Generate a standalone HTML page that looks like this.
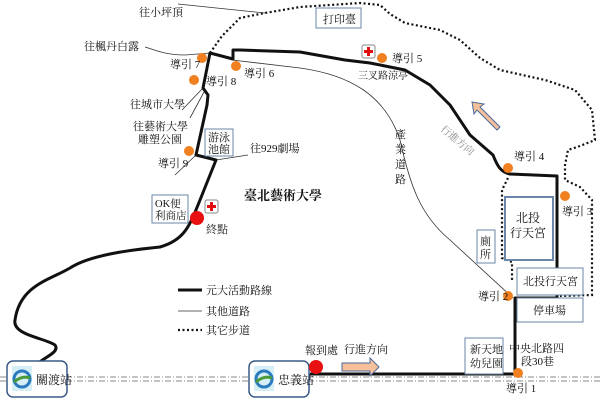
<!DOCTYPE html>
<html><head><meta charset="utf-8"><style>
html,body{margin:0;padding:0;background:#fff}
svg{display:block}
text{font-family:"Liberation Serif","Noto Serif CJK SC","Noto Sans CJK TC",serif;fill:#111}
</style></head><body>
<svg width="600" height="403" viewBox="0 0 600 403" xmlns="http://www.w3.org/2000/svg">
<!-- rail -->
<g stroke="#888" stroke-width="1" stroke-dasharray="6,2,1,2">
<line x1="0" y1="377" x2="600" y2="377"/><line x1="0" y1="381" x2="600" y2="381"/></g>
<!-- thin roads -->
<g fill="none" stroke="#333" stroke-width="0.8">
<line x1="178" y1="4" x2="265" y2="13"/>
<path d="M145,47 C155,50 165,55 185,55 L210,53 L232,60 L300,68"/>
<path d="M300,68 C350,75 385,95 400,140 C410,185 420,215 450,240 L513,298"/>
<line x1="203" y1="88" x2="182" y2="110"/>
<line x1="204" y1="92" x2="190" y2="118"/>
<line x1="216" y1="160" x2="248" y2="155"/>
<line x1="196" y1="155" x2="175" y2="175"/>
</g>
<!-- dotted -->
<g fill="none" stroke="#111" stroke-width="2.2" stroke-dasharray="2,2.5">
<path d="M210,53 L222,36 L240,18 L265,13 L300,7 L360,3 L380,5 L390,14 L405,23 L440,30 L460,40 L480,58 L500,70 L545,80 L575,90 L592,110 L595,140 L580,146 L568,150 L565,165 L565,180 L580,187 L592,200 L592,295 L560,296"/>
<path d="M508,178 L502,190 L502,258 L512,262 L512,280"/>
</g>
<!-- main route -->
<path d="M310,374 L515,374 L515,298 L557,298 L557,176 L510,174 C500,172 497,165 493,155 L470,135 L450,105 L430,85 L405,70 L370,63 L345,60 L300,52 L240,50 L233,50 L233,59 L210,53 L203,88 L208,95 L207,105 L196,155 L216,160 L200,200 C190,225 185,240 160,247 C130,250 90,255 70,268 C50,280 20,285 15,320 C12,335 45,338 55,345 C60,352 45,357 40,362" fill="none" stroke="#111" stroke-width="3" stroke-linejoin="round"/>
<!-- stations -->
<g>
<rect x="7" y="361" width="60" height="36" rx="6" fill="#fff" stroke="#3a5a86" stroke-width="1.5"/>
<rect x="249" y="361" width="60" height="36" rx="6" fill="#fff" stroke="#3a5a86" stroke-width="1.5"/>
<rect x="12" y="366" width="20" height="25" fill="#d6eef5"/>
<rect x="254" y="366" width="20" height="25" fill="#d6eef5"/>
<circle cx="22" cy="379" r="8" fill="none" stroke="#2a7abf" stroke-width="3"/>
<circle cx="264" cy="379" r="8" fill="none" stroke="#2a7abf" stroke-width="3"/>
<path d="M14,382 Q22,375 30,378" stroke="#4a9a3a" stroke-width="3" fill="none"/>
<path d="M256,382 Q264,375 272,378" stroke="#4a9a3a" stroke-width="3" fill="none"/>
<text x="36" y="384" font-size="12">關渡站</text>
<text x="278" y="384" font-size="12">忠義站</text>
</g>
<!-- boxes -->
<g fill="#fff" stroke="#6a86a8" stroke-width="1">
<rect x="316" y="8" width="45" height="20"/>
<rect x="205" y="129" width="28" height="27"/>
<rect x="152" y="195" width="36" height="28"/>
<rect x="505" y="197" width="48" height="63" stroke-width="2"/>
<rect x="477" y="230" width="18" height="33"/>
<rect x="517" y="268" width="66" height="27"/>
<rect x="517" y="298" width="66" height="24"/>
<rect x="465" y="338" width="38" height="36"/>
</g>
<g font-size="11">
<text x="323" y="23">打印臺</text>
<text x="208" y="141">游泳</text><text x="208" y="153">池館</text>
<text x="155" y="207" font-size="10.5">OK便</text><text x="155" y="219" font-size="10.5">利商店</text>
<text x="516" y="222" font-size="12">北投</text><text x="510" y="237" font-size="12">行天宮</text>
<text x="480" y="245">廁</text><text x="480" y="258">所</text>
<text x="523" y="285">北投行天宮</text>
<text x="533" y="314">停車場</text>
<text x="470" y="353">新天地</text><text x="470" y="367">幼兒園</text>
</g>
<!-- orange dots -->
<g fill="#f08020">
<circle cx="202" cy="58" r="5"/><circle cx="236" cy="66" r="5"/><circle cx="194" cy="80" r="5"/>
<circle cx="189" cy="151" r="5"/><circle cx="382" cy="58" r="5"/><circle cx="508" cy="168" r="5"/>
<circle cx="565" cy="196" r="5"/><circle cx="508" cy="296" r="5"/><circle cx="518" cy="373" r="5"/>
</g>
<circle cx="197" cy="218" r="7" fill="#e81010"/>
<circle cx="316" cy="367" r="7" fill="#e81010"/>
<!-- first aid -->
<g><rect x="205" y="200" width="13" height="13" rx="2" fill="#fff" stroke="#888"/><rect x="210" y="202" width="3" height="9" fill="#e01010"/><rect x="207" y="205" width="9" height="3" fill="#e01010"/></g>
<g><rect x="362" y="45" width="13" height="13" rx="2" fill="#fff" stroke="#888"/><rect x="367" y="47" width="3" height="9" fill="#e01010"/><rect x="364" y="50" width="9" height="3" fill="#e01010"/></g>
<!-- arrows -->
<path d="M342,363 h28 v-5 l9,9 l-9,9 v-5 h-28 z" fill="#f5c09a" stroke="#4a6a9a"/>
<path d="M497,130 l-20,-20 l-3,4 l-2,-12 l12,2 l-4,3 l20,20 z" fill="#f5c09a" stroke="#4a6a9a"/>
<!-- labels -->
<g font-size="11">
<text x="139" y="16">往小坪頂</text>
<text x="84" y="50">往楓丹白露</text>
<text x="170" y="68">導引 7</text>
<text x="206" y="85">導引 8</text>
<text x="244" y="77">導引 6</text>
<text x="130" y="108">往城市大學</text>
<text x="133" y="130">往藝術大學</text>
<text x="138" y="143">雕塑公園</text>
<text x="250" y="152">往929劇場</text>
<text x="158" y="167">導引 9</text>
<text x="206" y="233">終點</text>
<text x="244" y="200" font-size="13" font-weight="bold">臺北藝術大學</text>
<text x="392" y="62">導引 5</text>
<text x="358" y="79" font-size="10">三叉路涼亭</text>
<text x="395" y="138">產</text><text x="395" y="153">業</text><text x="395" y="168">道</text><text x="395" y="183">路</text>
<text x="514" y="160">導引 4</text>
<text x="562" y="215">導引 3</text>
<text x="478" y="300">導引 2</text>
<text x="509" y="352">中央北路四</text>
<text x="521" y="365">段30巷</text>
<text x="506" y="392">導引 1</text>
<text x="305" y="354">報到處</text>
<text x="344" y="353">行進方向</text>
<text x="206" y="294">元大活動路線</text>
<text x="206" y="315">其他道路</text>
<text x="206" y="334">其它步道</text>
</g>
<text x="440" y="130" font-size="10" fill="#888" style="fill:#888" transform="rotate(40 440 130)">行進方向</text>
<!-- legend -->
<line x1="178" y1="290" x2="202" y2="290" stroke="#111" stroke-width="3"/>
<line x1="178" y1="311" x2="202" y2="311" stroke="#333" stroke-width="0.8"/>
<line x1="178" y1="330" x2="202" y2="330" stroke="#111" stroke-width="2.2" stroke-dasharray="2,2.5"/>
</svg>
</body></html>
